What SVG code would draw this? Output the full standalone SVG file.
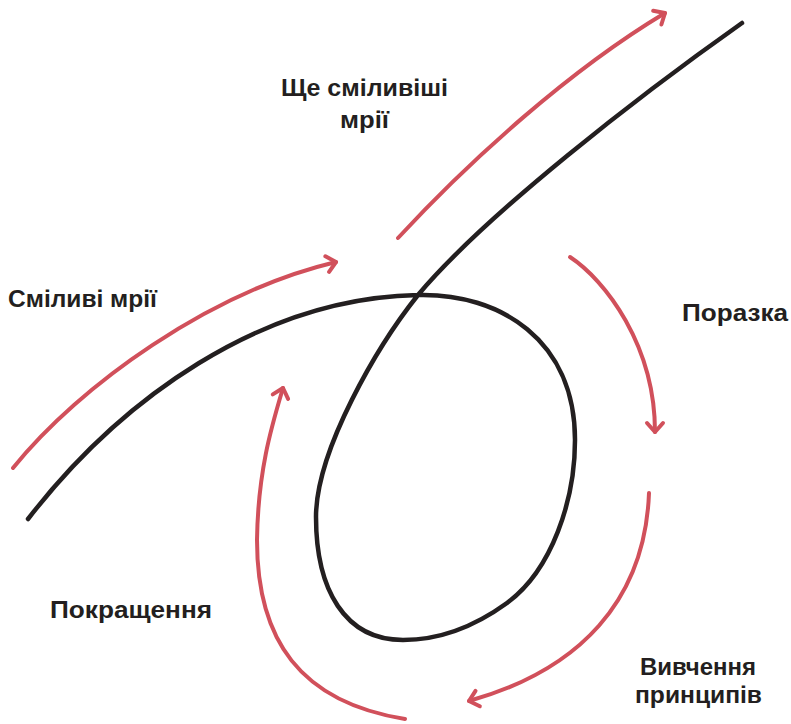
<svg xmlns="http://www.w3.org/2000/svg" width="791" height="724" viewBox="0 0 791 724">
  <style>
    .lbl { font-family: "Liberation Sans", Arial, sans-serif; font-weight: 700; font-size: 23px; fill: #231f20; }
    .path { fill: none; stroke: #231f20; stroke-width: 4.5; stroke-linecap: round; stroke-linejoin: round; }
    .arrow { fill: none; stroke: #d1505b; stroke-width: 4; stroke-linecap: round; stroke-linejoin: round; marker-end: url(#ah); }
  </style>
  <defs>
    <marker id="ah" markerUnits="userSpaceOnUse" markerWidth="30" markerHeight="30" refX="15" refY="15" orient="auto" viewBox="0 0 30 30" overflow="visible">
      <path d="M 6 7 L 15 15 L 6 23" fill="none" stroke="#d1505b" stroke-width="4" stroke-linecap="round" stroke-linejoin="round"/>
    </marker>
  </defs>
  <rect width="791" height="724" fill="#ffffff"/>

  <g id="journey-line">
    <path class="path" d="M 28 519 C 120 400, 260 298, 418 295 C 500 293, 575 340, 575 440 C 575 500, 552 570, 507 603 C 467 632, 433 640, 403 640 C 345 640, 316 590, 316 517 C 316 450, 378 345, 418 295 C 485 215, 640 95, 742 23"/>
  </g>

  <g id="connectors">
    <path class="arrow" d="M 13 468 C 80 385, 210 292, 336 262"/>
    <path class="arrow" d="M 398 238 C 470 160, 570 70, 665 13"/>
    <path class="arrow" d="M 570 257 C 605 280, 655 345, 655 432"/>
    <path class="arrow" d="M 649 493 C 645 600, 580 670, 469 701"/>
    <path class="arrow" d="M 405 719 C 300 702, 257 640, 257 540 C 258 470, 272 425, 283 388"/>
  </g>

  <g id="label-bold-dreams">
    <text class="lbl" x="8" y="307" textLength="149" lengthAdjust="spacingAndGlyphs">Сміливі мрії</text>
  </g>
  <g id="label-bolder-dreams">
    <text class="lbl" x="364.5" y="96" text-anchor="middle" textLength="167" lengthAdjust="spacingAndGlyphs">Ще сміливіші</text>
    <text class="lbl" x="364.5" y="128" text-anchor="middle" textLength="49" lengthAdjust="spacingAndGlyphs">мрії</text>
  </g>
  <g id="label-defeat">
    <text class="lbl" x="682" y="321" textLength="106" lengthAdjust="spacingAndGlyphs">Поразка</text>
  </g>
  <g id="label-study">
    <text class="lbl" x="698" y="675" text-anchor="middle" textLength="116" lengthAdjust="spacingAndGlyphs">Вивчення</text>
    <text class="lbl" x="698.5" y="703" text-anchor="middle" textLength="127" lengthAdjust="spacingAndGlyphs">принципів</text>
  </g>
  <g id="label-improvement">
    <text class="lbl" x="50" y="618" textLength="162" lengthAdjust="spacingAndGlyphs">Покращення</text>
  </g>
</svg>
